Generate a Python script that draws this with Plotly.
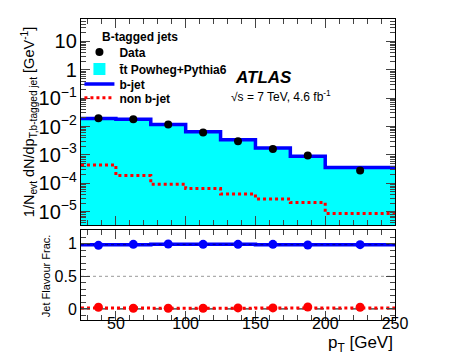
import plotly.graph_objects as go

# ---------------------------------------------------------
# Data
# ---------------------------------------------------------
bin_edges = [25, 50, 75, 100, 125, 150, 175, 200, 250]
bin_centers = [37.5, 62.5, 87.5, 112.5, 137.5, 162.5, 187.5, 225]
bin_widths = [25, 25, 25, 25, 25, 25, 25, 50]

data_vals = [0.0196, 0.018, 0.0118, 0.0062, 0.0030, 0.0016, 0.00095, 0.00028]
data_errs = [0.0006, 0.0006, 0.0004, 0.0003, 0.0002, 0.00012, 0.00008, 0.00003]
ttbar_total = [0.0195, 0.0183, 0.0120, 0.0066, 0.00345, 0.00178, 0.00091, 0.000368]
bjet_vals = [0.019, 0.018, 0.0118, 0.0065, 0.0034, 0.00175, 0.00089, 0.00036]
nonb_vals = [4.4e-4, 1.86e-4, 9.2e-5, 6.5e-5, 4.2e-5, 2.8e-5, 2.1e-5, 8.7e-6]

# flavour fractions (lower panel)
bfrac_mc = [0.985, 0.985, 0.99, 0.99, 0.99, 0.985, 0.985, 0.985]
nonbfrac_mc = [0.015, 0.015, 0.01, 0.01, 0.01, 0.015, 0.015, 0.015]
bfrac_pts = [0.975, 0.99, 0.995, 0.99, 0.99, 0.99, 0.98, 0.985]
nonbfrac_pts = [0.025, 0.01, 0.01, 0.01, 0.015, 0.015, 0.03, 0.025]


def step_y(vals):
    # repeat last value so hv step reaches the final bin edge
    return list(vals) + [vals[-1]]


FONT = "Liberation Sans, Arial, sans-serif"

fig = go.Figure()

# ---------------------------------------------------------
# Top panel (each entry gets its own legend box so rows sit tight)
# ---------------------------------------------------------
fig.add_trace(go.Bar(
    x=bin_centers, y=ttbar_total, width=bin_widths,
    marker=dict(color="#00ffff", line=dict(width=0)),
    name="t\u0304t Powheg+Pythia6", legend="legend2",
    xaxis="x", yaxis="y"
))
fig.add_trace(go.Scatter(
    x=bin_edges, y=step_y(bjet_vals), mode="lines", line_shape="hv",
    line=dict(color="#0000ff", width=3.5),
    name="b-jet", legend="legend3", xaxis="x", yaxis="y"
))
fig.add_trace(go.Scatter(
    x=bin_edges, y=step_y(nonb_vals), mode="lines", line_shape="hv",
    line=dict(color="#ff0000", width=3, dash="dot"),
    name="non b-jet", legend="legend4", xaxis="x", yaxis="y"
))
fig.add_trace(go.Scatter(
    x=bin_centers, y=data_vals, mode="markers",
    marker=dict(color="black", size=8),
    error_y=dict(type="data", array=data_errs, color="black", thickness=1.5, width=0),
    name="Data", legend="legend", xaxis="x", yaxis="y"
))

# ---------------------------------------------------------
# Lower panel
# ---------------------------------------------------------
fig.add_trace(go.Scatter(
    x=bin_edges, y=step_y(bfrac_mc), mode="lines", line_shape="hv",
    line=dict(color="#0000ff", width=3.5), showlegend=False,
    xaxis="x2", yaxis="y2"
))
fig.add_trace(go.Scatter(
    x=bin_edges, y=step_y(bfrac_mc), mode="lines", line_shape="hv",
    line=dict(color="#000088", width=1, dash="dot"), showlegend=False,
    xaxis="x2", yaxis="y2"
))
fig.add_trace(go.Scatter(
    x=bin_edges, y=step_y(nonbfrac_mc), mode="lines", line_shape="hv",
    line=dict(color="#ff0000", width=3, dash="dot"), showlegend=False,
    xaxis="x2", yaxis="y2"
))
fig.add_trace(go.Scatter(
    x=bin_centers, y=bfrac_pts, mode="markers",
    marker=dict(color="#0000ff", size=9), showlegend=False,
    xaxis="x2", yaxis="y2"
))
fig.add_trace(go.Scatter(
    x=bin_centers, y=nonbfrac_pts, mode="markers",
    marker=dict(color="#ff0000", size=9), showlegend=False,
    xaxis="x2", yaxis="y2"
))

# reference lines in the fraction panel
fig.add_hline(y=0.5, line=dict(color="#999999", width=1, dash="dot"),
              layer="below", xref="x2", yref="y2")
fig.add_hline(y=0, line=dict(color="black", width=1, dash="dash"),
              layer="below", xref="x2", yref="y2")

# ---------------------------------------------------------
# Axes
# ---------------------------------------------------------
common_x = dict(
    range=[25, 250], tick0=0, dtick=50, ticks="inside", ticklen=9,
    showline=True, linecolor="black", linewidth=1, mirror="ticks",
    showgrid=False, zeroline=False,
    minor=dict(ticks="inside", ticklen=5, dtick=10, tick0=0, showgrid=False),
)


def leg(ypos):
    return dict(
        x=-0.005, y=ypos, xanchor="left", yanchor="middle",
        bgcolor="rgba(0,0,0,0)", borderwidth=0,
        font=dict(family=FONT, size=12, weight="bold", color="black"),
        itemwidth=30,
    )


fig.update_layout(
    xaxis=dict(common_x, anchor="y", domain=[0, 1], showticklabels=False),
    yaxis=dict(
        type="log", range=[-5.47, 1.787], domain=[0.3156, 1], anchor="x",
        dtick=1, exponentformat="power", ticks="inside", ticklen=9,
        showline=True, linecolor="black", linewidth=1, mirror="ticks",
        showgrid=False, zeroline=False,
        minor=dict(ticks="inside", ticklen=5, showgrid=False),
        tickfont=dict(family=FONT, size=16, color="black"),
    ),
    xaxis2=dict(common_x, anchor="y2", domain=[0, 1], matches="x",
                ticklabelstandoff=-11,
                tickfont=dict(family=FONT, size=16, color="black")),
    yaxis2=dict(
        range=[-0.17, 1.21], domain=[0, 0.299], anchor="x2",
        tickvals=[0, 0.5, 1], ticktext=["0", "0.5", "1"],
        ticks="inside", ticklen=9,
        showline=True, linecolor="black", linewidth=1, mirror="ticks",
        showgrid=False, zeroline=False,
        minor=dict(ticks="inside", ticklen=5, dtick=0.1, tick0=0, showgrid=False),
        tickfont=dict(family=FONT, size=16, color="black"),
    ),
    bargap=0,
    width=456, height=354,
    margin=dict(l=73, r=69, t=11, b=42),
    plot_bgcolor="white", paper_bgcolor="white",
    font=dict(family=FONT, color="black"),
    legend=leg(0.890),
    legend2=leg(0.834),
    legend3=leg(0.784),
    legend4=leg(0.738),
    showlegend=True,
)

# ---------------------------------------------------------
# Labels
# ---------------------------------------------------------
fig.add_annotation(
    text="<b>B-tagged jets</b>", x=0.062, y=0.940, xref="paper", yref="paper",
    xanchor="left", yanchor="middle", showarrow=False,
    font=dict(family=FONT, size=12, color="black"),
)
fig.add_annotation(
    text="<b><i>ATLAS</i></b>", x=0.485, y=0.805, xref="paper", yref="paper",
    xanchor="left", yanchor="middle", showarrow=False,
    font=dict(family=FONT, size=17, color="black"),
)
fig.add_annotation(
    text="\u221as = 7 TeV, 4.6 fb<sup>-1</sup>", x=0.47, y=0.745,
    xref="paper", yref="paper", xanchor="left", yanchor="middle",
    showarrow=False, font=dict(family=FONT, size=12, color="black"),
)
fig.add_annotation(
    text="1/N<sub>evt</sub> dN/dp<sub>T,b-tagged jet</sub> [GeV<sup>-1</sup>]",
    textangle=-90, x=-0.165, y=0.658, xref="paper", yref="paper",
    xanchor="center", yanchor="middle", showarrow=False,
    font=dict(family=FONT, size=14.5, color="black"),
)
fig.add_annotation(
    text="Jet Flavour Frac.", textangle=-90, x=-0.111, y=0.146,
    xref="paper", yref="paper", xanchor="center", yanchor="middle",
    showarrow=False, font=dict(family=FONT, size=11, color="black"),
)
fig.add_annotation(
    text="p<sub>T</sub> [GeV]", x=1.0, y=-0.08, xref="paper", yref="paper",
    xanchor="right", yanchor="middle", showarrow=False,
    font=dict(family=FONT, size=17, color="black"),
)

fig.write_html("out.html")
